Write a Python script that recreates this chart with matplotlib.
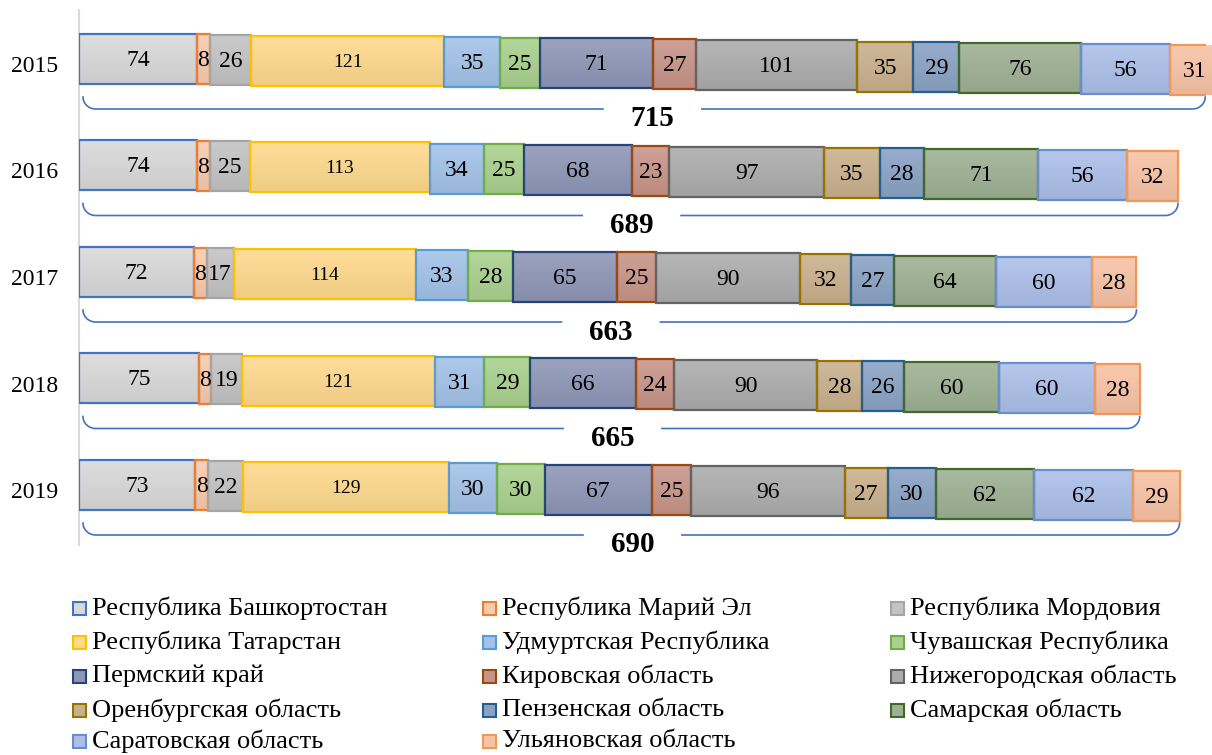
import numpy as np
import matplotlib
matplotlib.use("Agg")
import matplotlib.pyplot as plt
from matplotlib.patches import Rectangle
from matplotlib.colors import to_rgb

plt.rcParams['font.family'] = 'serif'
plt.rcParams['font.serif'] = ['Liberation Serif']

years = ['2015', '2016', '2017', '2018', '2019']
regions = ['Республика Башкортостан', 'Республика Марий Эл', 'Республика Мордовия',
           'Республика Татарстан', 'Удмуртская Республика', 'Чувашская Республика',
           'Пермский край', 'Кировская область', 'Нижегородская область',
           'Оренбургская область', 'Пензенская область', 'Самарская область',
           'Саратовская область', 'Ульяновская область']

# values per region, one list per year (2015..2019)
v2015 = [74, 8, 26, 121, 35, 25, 71, 27, 101, 35, 29, 76, 56, 31]
v2016 = [74, 8, 25, 113, 34, 25, 68, 23, 97, 35, 28, 71, 56, 32]
v2017 = [72, 8, 17, 114, 33, 28, 65, 25, 90, 32, 27, 64, 60, 28]
v2018 = [75, 8, 19, 121, 31, 29, 66, 24, 90, 28, 26, 60, 60, 28]
v2019 = [73, 8, 22, 129, 30, 30, 67, 25, 96, 27, 30, 62, 62, 29]
values = [v2015, v2016, v2017, v2018, v2019]

# fill, edge
fills = ['#d9d9d9', '#f8cbad', '#c3c3c3', '#ffd98c', '#a2c2e8', '#a9d18e',
         '#8d96b6', '#c89488', '#acacac', '#c8b08c', '#8aa2c4', '#9db093',
         '#abbfe8', '#f8c2a4']
edges = ['#4472c4', '#ed7d31', '#a5a5a5', '#ffc000', '#5b9bd5', '#70ad47',
         '#264478', '#9e480e', '#636363', '#997300', '#255e91', '#43682b',
         '#698ed0', '#f1975a']

W, H = 1212, 755
fig = plt.figure(figsize=(W / 100, H / 100), dpi=100)
ax_l, ax_r, ax_t, ax_b = 79, 1206, 10, 545
ax = fig.add_axes([ax_l / W, 1 - ax_b / H, (ax_r - ax_l) / W, (ax_b - ax_t) / H])

px_per_unit = 1.595
xmax = (ax_r - ax_l) / px_per_unit
row_px = 106.5
ax.set_xlim(0, xmax)
ax.set_ylim(4 + (ax_b - 490) / row_px, -(64 - ax_t) / row_px)

bar_h = 50 / row_px
drift = 12 / row_px / xmax   # slight downward drift along the bar


def shade(c, f):
    r = np.array(to_rgb(c))
    if f > 0:
        return r + (1 - r) * f
    return r * (1 + f)


for i, vals in enumerate(values):
    total = sum(vals)
    left = 0
    for j, v in enumerate(vals):
        mid = left + v / 2
        yc = i + (mid - total / 2) * drift
        y0 = yc - bar_h / 2
        grad = np.linspace(0, 1, 32)[:, None, None]
        top, bot = shade(fills[j], 0.12), shade(fills[j], -0.06)
        img = top * (1 - grad) + bot * grad
        im = ax.imshow(img, extent=(left, left + v, y0 + bar_h, y0), aspect='auto',
                       interpolation='bilinear', zorder=2)
        rect = Rectangle((left, y0), v, bar_h, facecolor='none', edgecolor=edges[j],
                         linewidth=1.6, zorder=3)
        ax.add_patch(rect)
        im.set_clip_path(rect)
        fs = 14 if j == 3 else 17
        ax.text(mid, yc + 1.5 / row_px, str(v), ha='center', va='center', fontsize=fs,
                zorder=4, clip_on=True)
        left += v

    # bracket under the bar with the total
    yb = i + 45 / row_px
    x0 = 2.5
    x1 = min(total, xmax - 0.5)
    rx, ry = 8, 12 / row_px
    gap = 31
    xc = total / 2 + 2
    t = np.linspace(0, np.pi / 2, 20)
    lx = x0 + rx - rx * np.cos(t)
    ly = yb - ry + ry * np.sin(t)
    ax.plot(np.r_[lx, xc - gap], np.r_[ly, yb], color='#4472c4', lw=1.2, zorder=3)
    rxs = x1 - rx + rx * np.sin(t)
    rys = yb - ry + ry * np.cos(t)
    ax.plot(np.r_[xc + gap, rxs], np.r_[yb, rys], color='#4472c4', lw=1.2, zorder=3)
    ax.text(xc, yb + 10 / row_px, str(total), ha='center', va='center',
            fontsize=21, fontweight='bold')

ax.set_yticks(range(len(years)))
ax.set_yticklabels(years, fontsize=17)
ax.set_xticks([])
ax.tick_params(axis='y', length=0, pad=15)
for s in ['top', 'right', 'bottom']:
    ax.spines[s].set_visible(False)
ax.spines['left'].set_color('#d9d9d9')
ax.spines['left'].set_linewidth(1.5)

# legend, row-wise in three columns
col_x = [73, 483, 891]
row_y = [608, 642, 676, 710, 741]
for k, name in enumerate(regions):
    cx = col_x[k % 3]
    cy = row_y[k // 3]
    fig.patches.append(Rectangle((cx / W, 1 - (cy + 6.5) / H), 13 / W, 13 / H,
                                 transform=fig.transFigure, facecolor=fills[k],
                                 edgecolor=edges[k], linewidth=1.5))
    fig.text((cx + 19) / W, 1 - cy / H, name, fontsize=19, va='center', ha='left')

fig.savefig('out.png', dpi=100)
